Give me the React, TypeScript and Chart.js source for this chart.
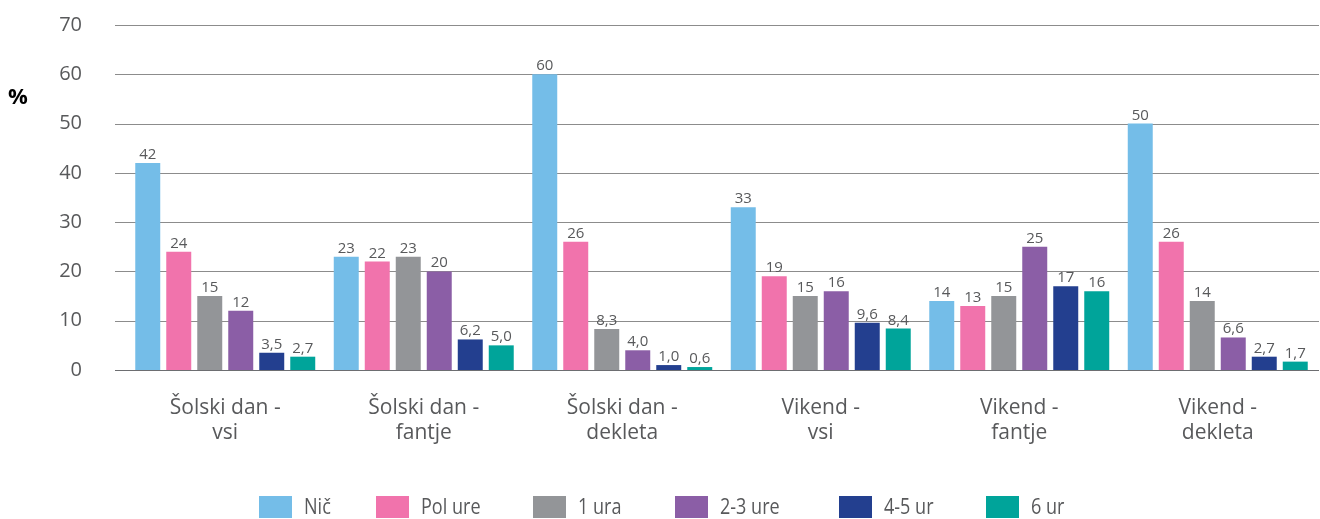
import React, { useEffect, useRef } from "react";
import { Chart, registerables } from "chart.js";

Chart.register(...registerables);

const categories: string[][] = [
  ["Šolski dan -", "vsi"],
  ["Šolski dan -", "fantje"],
  ["Šolski dan -", "dekleta"],
  ["Vikend -", "vsi"],
  ["Vikend -", "fantje"],
  ["Vikend -", "dekleta"],
];

const seriesNames = ["Nič", "Pol ure", "1 ura", "2-3 ure", "4-5 ur", "6 ur"];
const seriesColors = ["#74BDE8", "#F173AC", "#939598", "#8B5EA6", "#233F8F", "#00A49A"];

const nic = [42, 23, 60, 33, 14, 50];
const polUre = [24, 22, 26, 19, 13, 26];
const enaUra = [15, 23, 8.3, 15, 15, 14];
const dveTriUre = [12, 20, 4.0, 16, 25, 6.6];
const stiriPetUr = [3.5, 6.2, 1.0, 9.6, 17, 2.7];
const sestUr = [2.7, 5.0, 0.6, 8.4, 16, 1.7];

const seriesValues = [nic, polUre, enaUra, dveTriUre, stiriPetUr, sestUr];

const yTicks = [0, 10, 20, 30, 40, 50, 60, 70];

const FONT = "'Open Sans', sans-serif";
const TEXT = "#58595B";

const fmt = (v: number) => (v >= 10 ? String(Math.round(v)) : v.toFixed(1).replace(".", ","));

const legendBoxX = [259, 376, 533, 675, 839, 986];

const gridPlugin = {
  id: "gridPlugin",
  beforeDatasetsDraw(chart: any) {
    const ctx = chart.ctx;
    const y = chart.scales.y;
    ctx.save();
    ctx.lineWidth = 1;
    yTicks.forEach((v) => {
      const py = Math.round(y.getPixelForValue(v)) + 0.5;
      ctx.strokeStyle = v === 0 ? "#6d6e71" : "#8c8c8c";
      ctx.beginPath();
      ctx.moveTo(115, py);
      ctx.lineTo(1319, py);
      ctx.stroke();
    });
    ctx.restore();
  },
};

const labelsPlugin = {
  id: "labelsPlugin",
  afterDatasetsDraw(chart: any) {
    const ctx = chart.ctx;
    ctx.save();
    ctx.font = `15px ${FONT}`;
    ctx.fillStyle = TEXT;
    ctx.textAlign = "center";
    ctx.textBaseline = "alphabetic";
    chart.data.datasets.forEach((ds: any, i: number) => {
      const meta = chart.getDatasetMeta(i);
      meta.data.forEach((bar: any, j: number) => {
        ctx.fillText(fmt(ds.data[j]), bar.x, bar.y - 4);
      });
    });
    ctx.restore();
  },
  afterDraw(chart: any) {
    const ctx = chart.ctx;
    ctx.save();
    ctx.font = `bold 22px ${FONT}`;
    ctx.fillStyle = "#000";
    ctx.textAlign = "left";
    ctx.textBaseline = "middle";
    ctx.fillText("%", 8, 98);
    ctx.font = `22px ${FONT}`;
    seriesNames.forEach((name, i) => {
      const x = legendBoxX[i];
      ctx.fillStyle = seriesColors[i];
      ctx.fillRect(x, 496, 33, 22);
      ctx.fillStyle = TEXT;
      ctx.save();
      ctx.translate(x + 45, 508);
      ctx.scale(0.82, 1);
      ctx.fillText(name, 0, 0);
      ctx.restore();
    });
    ctx.restore();
  },
};

export default function App() {
  const ref = useRef<HTMLCanvasElement>(null);
  useEffect(() => {
    document.body.style.margin = "0";
    const chart = new Chart(ref.current!, {
      type: "bar",
      data: {
        labels: categories,
        datasets: seriesNames.map((name, i) => ({
          label: name,
          data: seriesValues[i],
          backgroundColor: seriesColors[i],
          categoryPercentage: 0.937,
          barPercentage: 0.806,
        })),
      },
      options: {
        responsive: false,
        animation: false,
        layout: { padding: { top: 25, right: 3, bottom: 0, left: 0 } },
        plugins: { legend: { display: false }, tooltip: { enabled: false } },
        scales: {
          x: {
            grid: { display: false },
            border: { display: false },
            ticks: {
              color: TEXT,
              font: { family: FONT, size: 21, lineHeight: 1.2 },
              padding: 17,
              maxRotation: 0,
            },
            afterFit: (s: any) => {
              s.height = 149;
              s.paddingLeft = 0;
              s.paddingRight = 0;
            },
          },
          y: {
            min: 0,
            max: 70,
            afterBuildTicks: (s: any) => {
              s.ticks = yTicks.map((v) => ({ value: v }));
            },
            grid: { display: false, drawTicks: false },
            border: { display: false },
            ticks: {
              color: TEXT,
              font: { family: FONT, size: 20 },
              padding: 44,
            },
            afterFit: (s: any) => {
              s.width = 126;
              s.paddingTop = 0;
              s.paddingBottom = 0;
            },
          },
        },
      },
      plugins: [gridPlugin, labelsPlugin],
    });
    return () => chart.destroy();
  }, []);
  return (
    <div style={{ width: 1320, height: 519 }}>
      <canvas ref={ref} width={1320} height={519} />
    </div>
  );
}
